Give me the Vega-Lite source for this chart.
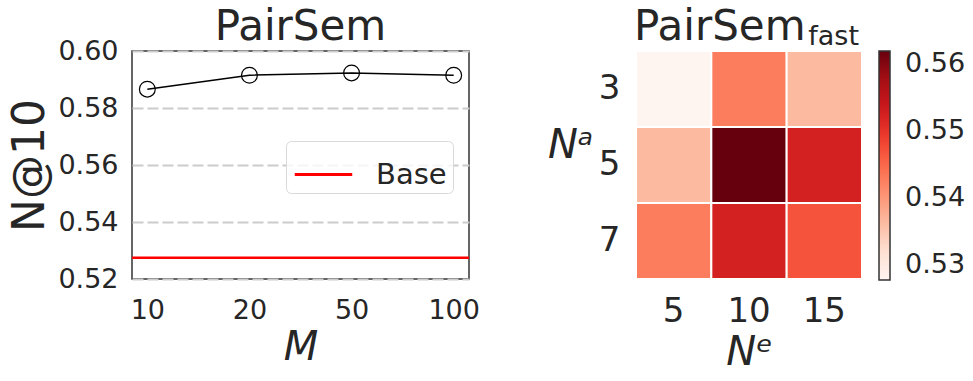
{
  "$schema": "https://vega.github.io/schema/vega-lite/v6.json",
  "padding": {"left": 8, "top": 5, "right": 0, "bottom": 0},
  "background": "white",
  "config": {
    "font": "DejaVu Sans",
    "view": {"stroke": null},
    "axis": {"labelFont": "DejaVu Sans", "titleFont": "DejaVu Sans", "labelColor": "#262626", "titleColor": "#262626", "domain": false, "ticks": false, "grid": false, "titleFontWeight": "normal"},
    "title": {"font": "DejaVu Sans", "fontWeight": "normal", "color": "#262626", "subtitleColor": "#262626", "subtitleFont": "DejaVu Sans"},
    "legend": {"labelFont": "DejaVu Sans", "labelColor": "#262626"}
  },
  "datasets": {
    "line": [
      {"M": "10", "N10": 0.5866},
      {"M": "20", "N10": 0.5915},
      {"M": "50", "N10": 0.5923},
      {"M": "100", "N10": 0.5915}
    ],
    "base": [{"series": "Base", "N10": 0.5275}],
    "heat": [
      {"Na": "3", "Ne": "5", "v": 0.5278},
      {"Na": "3", "Ne": "10", "v": 0.5428},
      {"Na": "3", "Ne": "15", "v": 0.5363},
      {"Na": "5", "Ne": "5", "v": 0.5363},
      {"Na": "5", "Ne": "10", "v": 0.5619},
      {"Na": "5", "Ne": "15", "v": 0.5524},
      {"Na": "7", "Ne": "5", "v": 0.5428},
      {"Na": "7", "Ne": "10", "v": 0.5524},
      {"Na": "7", "Ne": "15", "v": 0.5469}
    ]
  },
  "resolve": {"scale": {"color": "independent", "x": "independent", "y": "independent"}, "legend": {"color": "independent"}},
  "spacing": 66,
  "hconcat": [
    {
      "width": 337,
      "height": 228,
      "title": {"text": "PairSem", "fontSize": 42, "offset": -12},
      "view": {"stroke": "#333333", "strokeWidth": 1.5},
      "layer": [
        {
          "data": {"name": "line"},
          "mark": {"type": "line", "color": "black", "strokeWidth": 1.5},
          "encoding": {
            "x": {"field": "M", "type": "ordinal", "sort": null, "scale": {"type": "point", "padding": 0.15},
              "axis": {"labelAngle": 0, "labelFontSize": 27, "labelPadding": 18, "title": "M", "titleFontSize": 40, "titleFontStyle": "italic", "titlePadding": 4}},
            "y": {"field": "N10", "type": "quantitative", "scale": {"domain": [0.52, 0.6], "nice": false, "zero": false},
              "axis": {"values": [0.52, 0.54, 0.56, 0.58, 0.6], "format": ".2f", "labelFontSize": 27, "labelPadding": 14, "grid": true, "gridColor": "#cccccc", "gridDash": [11, 4], "gridWidth": 2, "title": "N@10", "titleFontSize": 44, "titlePadding": 5}}
          }
        },
        {
          "data": {"name": "line"},
          "mark": {"type": "point", "shape": "circle", "filled": false, "size": 250, "stroke": "black", "strokeWidth": 1.2, "opacity": 1},
          "encoding": {
            "x": {"field": "M", "type": "ordinal", "sort": null},
            "y": {"field": "N10", "type": "quantitative"}
          }
        },
        {
          "data": {"name": "base"},
          "mark": {"type": "rule", "strokeWidth": 2.5},
          "encoding": {
            "y": {"field": "N10", "type": "quantitative"},
            "color": {"field": "series", "type": "nominal", "scale": {"domain": ["Base"], "range": ["#ff0000"]},
              "legend": {"title": null, "orient": "none", "legendX": 154, "legendY": 90, "symbolType": "stroke", "symbolSize": 3300, "symbolStrokeWidth": 3, "symbolOffset": 4, "labelFontSize": 29, "labelOffset": 22, "labelExpr": "datum.label + '\u200a\u200b'", "padding": 3, "fillColor": "rgba(255,255,255,0.8)", "strokeColor": "#d9d9d9", "cornerRadius": 5}}
          }
        }
      ]
    },
    {
      "width": 226,
      "height": 228,
      "title": {"text": "PairSem\u00a0\u00a0\u00a0\u00a0\u200b", "subtitle": "fast", "anchor": "end", "frame": "group", "fontSize": 42, "subtitleFontSize": 27, "subtitlePadding": -25, "offset": -1, "dx": -3},
      "data": {"name": "heat"},
      "mark": {"type": "rect", "stroke": "white", "strokeWidth": 2},
      "encoding": {
        "x": {"field": "Ne", "type": "ordinal", "sort": ["5", "10", "15"], "scale": {"paddingInner": 0, "paddingOuter": 0},
          "axis": {"labelAngle": 0, "labelFontSize": 34, "labelPadding": 15, "title": "Nᵉ", "titleFontSize": 40, "titleFontStyle": "italic", "titlePadding": 4}},
        "y": {"field": "Na", "type": "ordinal", "sort": ["3", "5", "7"], "scale": {"paddingInner": 0, "paddingOuter": 0},
          "axis": {"labelFontSize": 34, "labelPadding": 16, "title": "Nᵃ", "titleFontSize": 40, "titleFontStyle": "italic", "titleAngle": 0, "titleAlign": "right", "titleBaseline": "alphabetic", "titleX": -43, "titleY": 106}},
        "color": {"field": "v", "type": "quantitative",
          "scale": {"domain": [0.5278, 0.53206, 0.53633, 0.54059, 0.54485, 0.54911, 0.55338, 0.55764, 0.5619], "range": ["#fff5f0", "#fee0d2", "#fcbba1", "#fc9272", "#fb6a4a", "#ef3b2c", "#cb181d", "#a50f15", "#67000d"], "interpolate": "rgb"},
          "legend": {"title": null, "type": "gradient", "direction": "vertical", "gradientLength": 229, "gradientThickness": 11, "gradientStrokeColor": "#333333", "gradientStrokeWidth": 1.5, "labelFontSize": 27, "labelOffset": 15, "values": [0.53, 0.54, 0.55, 0.56], "format": ".2f", "offset": 17, "padding": 0}}
      }
    }
  ]
}
